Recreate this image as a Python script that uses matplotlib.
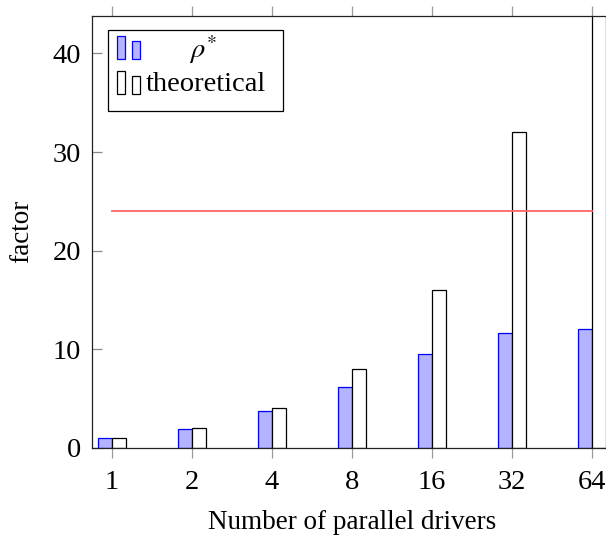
import numpy as np
import matplotlib
matplotlib.use("Agg")
import matplotlib.pyplot as plt
from matplotlib.patches import Rectangle

plt.rcParams['font.family'] = ['Liberation Serif', 'DejaVu Serif']
plt.rcParams['mathtext.fontset'] = 'stix'

drivers = ["1", "2", "4", "8", "16", "32", "64"]
rho = [1.0, 1.93, 3.7, 6.2, 9.5, 11.6, 12.0]
theoretical = [1, 2, 4, 8, 16, 32, 64]
ref_level = 24

W, H = 606, 539
fig = plt.figure(figsize=(W / 100, H / 100), dpi=100)

def fx(x):
    return x / W

def fy(y):
    return 1 - y / H

# axes box in pixels (right side runs past the edge of the picture)
ax = fig.add_axes([fx(92), fy(447.7), fx(612) - fx(92), fy(16) - fy(447.7)])

x = np.arange(len(drivers))
bw = 0.175
ax.bar(x - bw / 2, rho, bw, color="#b3b3ff", edgecolor="blue", linewidth=0.9, zorder=2)
ax.bar(x + bw / 2, theoretical, bw, color="white", edgecolor="black", linewidth=0.9, zorder=2)
ax.plot([x[0], x[-1]], [ref_level, ref_level], color="#ff6666", lw=1.3, zorder=3)

ax.set_xlim(-0.25, len(drivers) - 0.75)
ax.set_ylim(0, 43.8)
ax.set_xticks(x)
ax.set_xticklabels(drivers)
ax.set_yticks([0, 10, 20, 30, 40])

for s in ax.spines.values():
    s.set_linewidth(0.9)
    s.set_color("#222222")

ax.tick_params(axis="x", direction="out", length=7.2, width=0.9, color="#999999",
               top=True, labelsize=20.5, pad=9)
ax.tick_params(axis="y", direction="in", length=7.5, width=0.9, color="#888888",
               right=True, labelsize=20.5, pad=8)

ax.set_xlabel("Number of parallel drivers", fontsize=19.5, labelpad=11)
ax.set_ylabel("factor", fontsize=19.5, labelpad=13)

# legend drawn by hand, pgfplots ybar style
fig.patches.append(Rectangle((fx(108), fy(111)), fx(283) - fx(108), fy(30) - fy(111),
                             transform=fig.transFigure, facecolor="white",
                             edgecolor="black", linewidth=0.9, zorder=5))
legend_rows = [("$\\rho^{*}$", "#b3b3ff", "blue", 59.3, "center", 203),
               ("theoretical", "white", "black", 94.3, "left", 146)]
for label, fc, ec, base, ha, tx in legend_rows:
    for x0, hgt in [(116.7, 23), (132.3, 18)]:
        fig.patches.append(Rectangle((fx(x0), fy(base)), fx(8), hgt / H,
                                     transform=fig.transFigure, facecolor=fc,
                                     edgecolor=ec, linewidth=0.9, zorder=6))
    fig.text(fx(tx), fy(base - 10), label, ha=ha, va="center", fontsize=20.5, zorder=7)

fig.savefig("out.png", dpi=100)
